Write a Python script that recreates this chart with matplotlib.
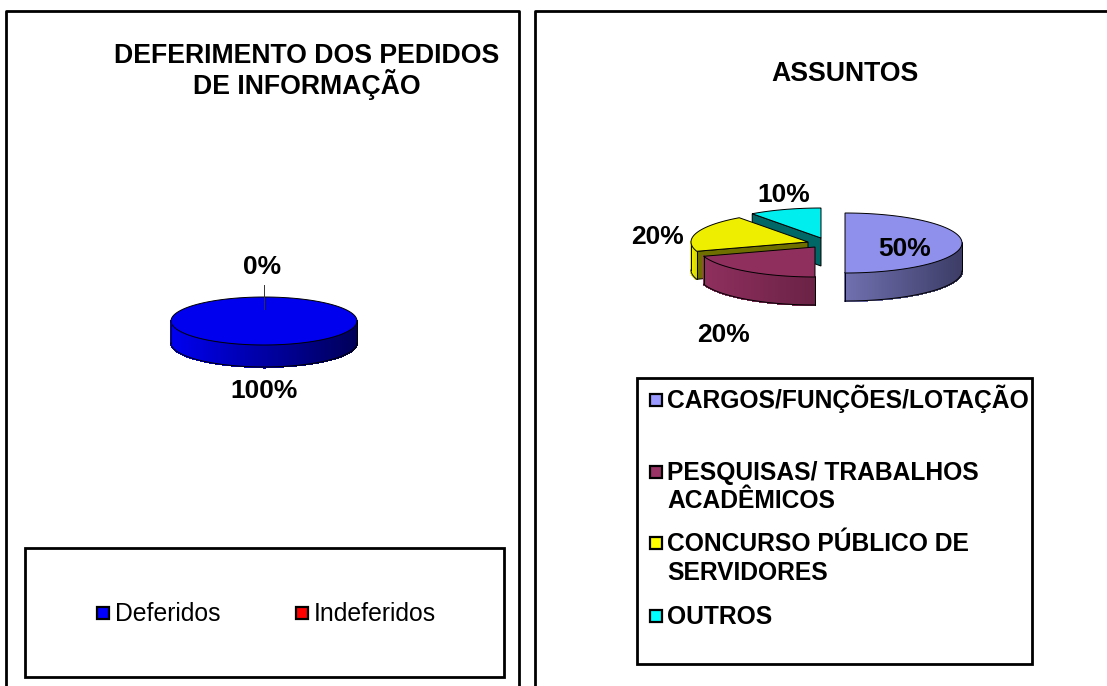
import numpy as np
import matplotlib
matplotlib.use("Agg")
import matplotlib.pyplot as plt
from matplotlib.colors import to_rgb

plt.rcParams['font.family'] = ['Liberation Sans', 'DejaVu Sans']

# dados
titulo_esq = "DEFERIMENTO DOS PEDIDOS\nDE INFORMAÇÃO"
cat_esq = ["Deferidos", "Indeferidos"]
val_esq = [100, 0]

titulo_dir = "ASSUNTOS"
cat_dir = ["CARGOS/FUNÇÕES/LOTAÇÃO", "PESQUISAS/ TRABALHOS\nACADÊMICOS",
           "CONCURSO PÚBLICO DE\nSERVIDORES", "OUTROS"]
val_dir = [50, 20, 20, 10]

fig = plt.figure(figsize=(11.07, 6.86), dpi=100)
ax = fig.add_axes([0, 0, 1, 1])
ax.set_xlim(0, 1107)
ax.set_ylim(686, 0)
ax.axis('off')


def rim(c, rx, ry, t):
    # t em graus, horario a partir do topo
    t = np.radians(t)
    return c[0] + rx*np.sin(t), c[1] - ry*np.cos(t)


def fatia(c, rx, ry, prof, t0, t1, topo, parede, corte=None):
    # corte = face plana visivel na borda t0
    if corte is not None:
        x, y = rim(c, rx, ry, t0)
        ax.fill([c[0], x, x, c[0]], [c[1], y, y+prof, c[1]+prof], fc=corte, ec='black', lw=0.7, zorder=2)
    # parede externa so aparece entre 90 e 270 graus
    a, b = max(t0, 90), min(t1, 270)
    if b > a:
        ts = np.linspace(a, b, 150)
        c0, c1 = to_rgb(parede[0]), to_rgb(parede[1])
        xs, ys = rim(c, rx, ry, ts)
        x0, x1 = xs.min(), xs.max()
        for i in range(len(ts)-1):
            f = (x1 - xs[i]) / (x1 - x0)
            cor = tuple(c0[k]*f + c1[k]*(1-f) for k in range(3))
            ax.fill([xs[i], xs[i+1], xs[i+1], xs[i]], [ys[i], ys[i+1], ys[i+1]+prof, ys[i]+prof],
                    fc=cor, ec=cor, lw=0.8, antialiased=False, zorder=2)
        ax.plot(xs, ys+prof, color='black', lw=0.7, zorder=2)
        ax.plot([xs[0], xs[0]], [ys[0], ys[0]+prof], color='black', lw=0.7, zorder=2)
        ax.plot([xs[-1], xs[-1]], [ys[-1], ys[-1]+prof], color='black', lw=0.7, zorder=2)
    ts = np.linspace(t0, t1, 120)
    x, y = rim(c, rx, ry, ts)
    if t1 - t0 < 360:
        x = np.r_[c[0], x]
        y = np.r_[c[1], y]
    ax.fill(x, y, fc=topo, ec='black', lw=0.7, zorder=2)


# molduras
ax.plot([6, 6, 519, 519], [686, 11, 11, 686], color='black', lw=2, zorder=1)
ax.plot([535, 535, 1107], [686, 11, 11], color='black', lw=2, zorder=1)

ax.text(307, 71.5, titulo_esq, ha='center', va='center', fontsize=19.2, fontweight='bold', linespacing=1.0)
ax.text(845, 74, titulo_dir, ha='center', va='center', fontsize=19.2, fontweight='bold')

# pizza esquerda
ang = np.cumsum([0] + val_esq) * 3.6
fatia((264, 321), 93, 24, 22, ang[0], ang[1], '#0000ee', ('#0000f0', '#000058'))
ax.plot([264, 264], [285, 309], color='#333333', lw=0.7, zorder=3)
ax.text(262, 266.5, f"{val_esq[1]}%", ha='center', va='center', fontsize=19, fontweight='bold')
ax.text(264, 391.5, f"{val_esq[0]}%", ha='center', va='center', fontsize=19, fontweight='bold')

# pizza direita
ang = np.cumsum([0] + val_dir) * 3.6
centros = [(845, 243), (815, 247), (808, 242), (821, 238)]
topos = ['#8f8fec', '#8f2f5e', '#eeee00', '#00eeee']
paredes = [('#7070b0', '#3c3c66'), ('#8f2f5e', '#6a2245'), ('#eeee00', '#d0d000'), ('#008080', '#006060')]
cortes = [None, None, '#6f6f00', '#006666']
for i in [3, 2, 1, 0]:
    fatia(centros[i], 117, 30, 28, ang[i], ang[i+1], topos[i], paredes[i], cortes[i])

pos_rot = [(905, 249.5), (723, 334.5), (657, 237.5), (784, 194.5)]
for v, p in zip(val_dir, pos_rot):
    ax.text(p[0], p[1], f"{v}%", ha='center', va='center', fontsize=19, fontweight='bold', zorder=4)

# legenda esquerda
ax.fill([25, 504, 504, 25], [548, 548, 677, 677], fc='white', ec='black', lw=2, zorder=1)
leg_cor = ['#0000ff', '#ff0000']
for nome, cor, x in zip(cat_esq, leg_cor, [103, 302]):
    ax.plot(x, 613, marker='s', ms=9, mfc=cor, mec='black', mew=1.6, zorder=3)
    ax.text(x+12, 614, nome, ha='left', va='center', fontsize=17.8)

# legenda direita
ax.fill([637, 1032, 1032, 637], [378, 378, 664, 664], fc='white', ec='black', lw=2, zorder=1)
leg_cor = ['#9999ff', '#993366', '#ffff00', '#00ffff']
for nome, cor, y in zip(cat_dir, leg_cor, [400, 472, 543, 616]):
    ax.plot(656, y, marker='s', ms=9, mfc=cor, mec='black', mew=1.6, zorder=3)
    for j, linha in enumerate(nome.split("\n")):
        ax.text(667, y+8+28.5*j, linha, ha='left', va='baseline', fontsize=17.7, fontweight='bold')

fig.savefig("out.png", dpi=100)
